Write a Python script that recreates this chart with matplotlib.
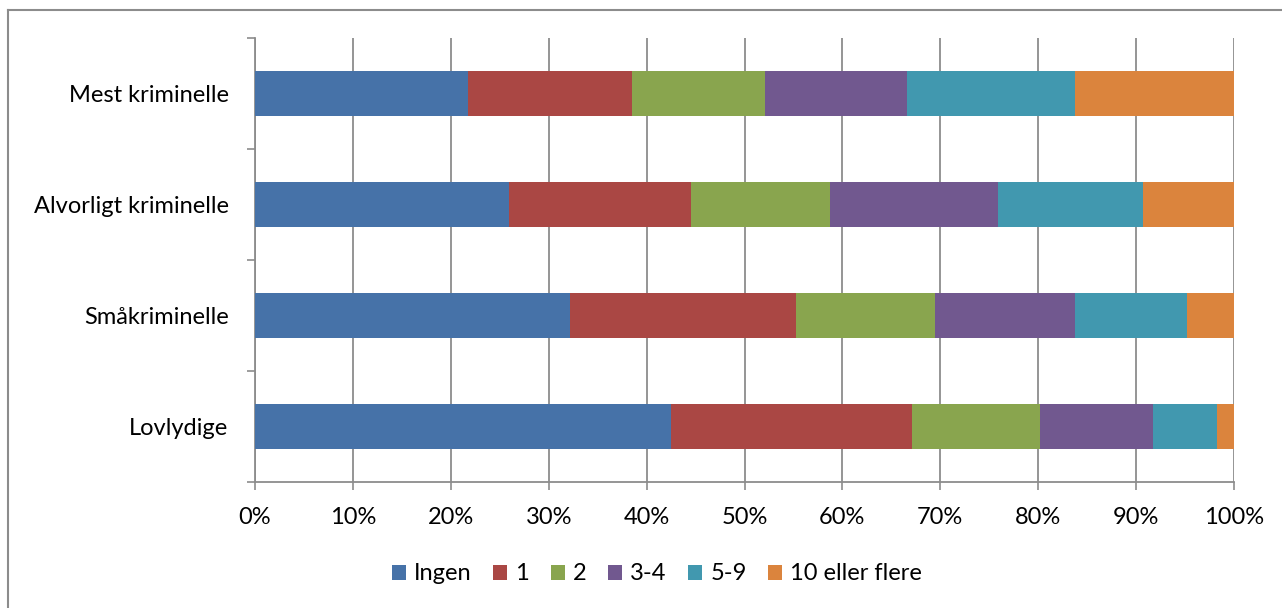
import matplotlib
matplotlib.use("Agg")
import matplotlib.pyplot as plt
from matplotlib.lines import Line2D
from matplotlib.ticker import MultipleLocator, FuncFormatter
import numpy as np

categories = ["Lovlydige", "Småkriminelle", "Alvorligt kriminelle", "Mest kriminelle"]
series_names = ["Ingen", "1", "2", "3-4", "5-9", "10 eller flere"]
ingen = [42.5, 32.2, 25.9, 21.8]
en = [24.6, 23.1, 18.6, 16.7]
to = [13.1, 14.2, 14.2, 13.6]
tre_fire = [11.5, 14.3, 17.2, 14.5]
fem_ni = [6.6, 11.4, 14.8, 17.2]
ti_plus = [1.7, 4.8, 9.3, 16.2]
series = [ingen, en, to, tre_fire, fem_ni, ti_plus]
colors = ["#4672A8", "#AA4744", "#89A54E", "#71588F", "#4198AF", "#DB843D"]

plt.rcParams['font.family'] = ['Lato', 'DejaVu Sans']
W, H = 1282, 608
fig = plt.figure(figsize=(W / 100, H / 100), dpi=100)
# outer frame (top and left visible)
fig.lines.append(Line2D([8 / W, 8 / W], [0, 1 - 10 / H], transform=fig.transFigure,
                        color="#8c8c8c", linewidth=1.5))
fig.lines.append(Line2D([8 / W, 1], [1 - 10 / H, 1 - 10 / H], transform=fig.transFigure,
                        color="#8c8c8c", linewidth=1.5))

ax = fig.add_axes([255 / W, 1 - 482 / H, (1234 - 255) / W, (482 - 38) / H])
y = np.arange(len(categories))
left = np.zeros(len(categories))
for vals, name, c in zip(series, series_names, colors):
    ax.barh(y, vals, left=left, height=0.4, color=c, label=name, zorder=3)
    left += np.array(vals)

ax.set_xlim(0, 100)
ax.set_ylim(-0.5, len(categories) - 0.5)
ax.xaxis.set_major_locator(MultipleLocator(10))
ax.xaxis.set_major_formatter(FuncFormatter(lambda v, p: f"{int(round(v))}%"))
ax.set_yticks(y)
ax.set_yticklabels(categories)
ax.set_yticks(np.arange(-0.5, len(categories), 1), minor=True)
ax.tick_params(axis='y', which='major', length=0, pad=19, labelsize=17)
ax.tick_params(axis='y', which='minor', length=6, width=1.2, color="#8c8c8c", direction='out')
ax.tick_params(axis='x', length=6, width=1.2, color="#8c8c8c", direction='out', labelsize=17, pad=12)
ax.grid(axis='x', color="#8c8c8c", linewidth=1.3, zorder=0)
for s in ["top", "right"]:
    ax.spines[s].set_visible(False)
for s in ["left", "bottom"]:
    ax.spines[s].set_color("#8c8c8c")
    ax.spines[s].set_linewidth(1.3)

fig.legend(loc="center", bbox_to_anchor=(657 / W, 1 - 574 / H),
           ncol=6, frameon=False, fontsize=17, handlelength=0.6, handleheight=0.6,
           handletextpad=0.35, columnspacing=0.9)

fig.savefig("out.png", dpi=100)
